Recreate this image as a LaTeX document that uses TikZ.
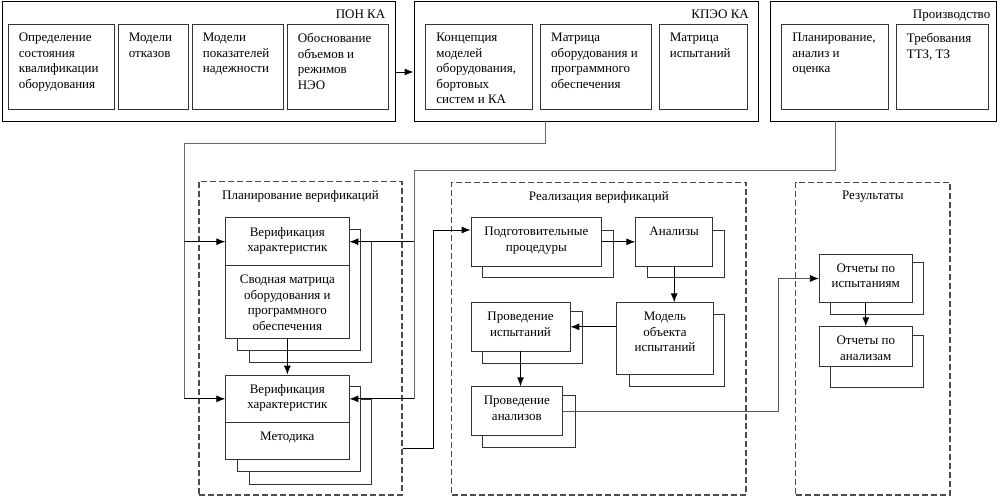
\documentclass[tikz,border=0pt]{standalone}
\usepackage{fontspec}
\setmainfont{Liberation Serif}
\newfontfamily\tnr{Liberation Serif}
\usetikzlibrary{arrows.meta,fit,calc}
\tikzset{
 fbox/.style={draw=black!80, line width=0.8pt, fill=white, inner sep=0pt},
 obox/.style={draw=black, line width=0.9pt, inner sep=0pt},
 grp/.style={draw=black!70, line width=1.3pt, dash pattern=on 6pt off 3pt, inner sep=0pt},
 txt/.style={inner sep=0pt, font=\tnr\fontsize{13pt}{15.5pt}\selectfont},
 arr/.style={draw=black, line width=0.9pt, -{Latex[length=9pt,width=7pt]}},
 conn/.style={draw=black!60, line width=0.8pt},
 thinarr/.style={draw=black!65, line width=0.8pt, -{Latex[length=9pt,width=7pt,color=black]}},
}
\newcommand\cbox[4]{\node[fbox, fit={(#2) (#3)}] (#1) {};
  \node[txt, align=center, anchor=north] (#1t) at ([yshift=-9.5pt]#1.north) {#4};}
\newcommand\lbox[4]{\node[fbox, fit={(#2) (#3)}] (#1) {};
  \node[txt, align=left, anchor=north west] (#1t) at ([xshift=11pt,yshift=-9.5pt]#1.north west) {#4};}
\newcommand\bbox[3]{\node[fbox, fit={(#2) (#3)}] (#1) {};}
\begin{document}
\begin{tikzpicture}[x=1pt,y=-1pt]
\useasboundingbox (0,0) rectangle (1000,497);
% top outer boxes
\node[obox, fit={(2,1) (395,121)}] (pon) {};
\node[obox, fit={(414,1) (758.6,121)}] (kpeo) {};
\node[obox, fit={(770,1) (996,121)}] (prod) {};
\node[txt, anchor=north east] (pont) at ([xshift=-10pt,yshift=-9.5pt]pon.north east) {ПОН КА};
\node[txt, anchor=north east] (kpeot) at ([xshift=-10pt,yshift=-9.5pt]kpeo.north east) {КПЭО КА};
\node[txt, anchor=north east] (prodt) at ([xshift=-6pt,yshift=-9.5pt]prod.north east) {Производство};
% top inner boxes
\lbox{pa1}{8,24}{114,109}{Определение\\состояния\\квалификации\\оборудования}
\lbox{pa2}{118,24}{188,109}{Модели\\отказов}
\lbox{pa3}{192,24}{283,109}{Модели\\показателей\\надежности}
\lbox{pa4}{287,24}{388,109}{Обоснование\\объемов и\\режимов\\НЭО}
\lbox{kp1}{425.6,24}{532.8,109}{Концепция\\моделей\\оборудования,\\бортовых\\систем и КА}
\lbox{kp2}{540.4,24}{651.4,109}{Матрица\\оборудования и\\программного\\обеспечения}
\lbox{kp3}{659,24}{747,109}{Матрица\\испытаний}
\lbox{pr1}{781.5,24}{888.7,109}{Планирование,\\анализ и\\оценка}
\lbox{pr2}{896,24}{988,109}{Требования\\ТТЗ, ТЗ}
% groups
\node[grp, fit={(199,181.7) (402,495)}] (plan) {};
\node[grp, fit={(451.7,182.3) (746,495)}] (real) {};
\node[grp, fit={(795.7,182.3) (950,495)}] (res) {};
\node[txt, anchor=north] (plant) at ([yshift=-9.5pt]plan.north) {Планирование верификаций};
\node[txt, anchor=north] (realt) at ([yshift=-9.5pt]real.north) {Реализация верификаций};
\node[txt, anchor=north] (rest) at ([yshift=-9.5pt]res.north) {Результаты};
% planning stacks
\bbox{vb13}{249,241.7}{371,362.7}
\bbox{vb12}{237.7,229}{360,350}
\cbox{vch1}{225.7,217.7}{349,265.7}{Верификация\\характеристик}
\cbox{svm}{225.7,265.7}{349,338}{Сводная матрица\\оборудования и\\программного\\обеспечения}
\bbox{vb23}{249,399.3}{371,484}
\bbox{vb22}{237.7,386.7}{360,471}
\cbox{vch2}{225.7,375}{349,422.7}{Верификация\\характеристик}
\cbox{met}{225.7,422.7}{349,459}{Методика}
% realization
\bbox{prepb}{482.7,230}{613.3,277.7}
\cbox{prep}{471,217.7}{601.7,266}{Подготовительные\\процедуры}
\bbox{analb}{647.3,230}{724,277.7}
\cbox{anal}{635.7,217.7}{712.7,266}{Анализы}
\bbox{modelb}{629,314.3}{724.3,386.7}
\cbox{model}{616.7,302.7}{713.3,374.3}{Модель\\объекта\\испытаний}
\bbox{pib}{482.7,311.7}{582.3,363.3}
\cbox{pi}{471,302.7}{570,351}{Проведение\\испытаний}
\bbox{pab}{482.7,395}{575,447.3}
\cbox{pan}{471,386.7}{562.7,435.7}{Проведение\\анализов}
% results
\bbox{rib}{830.7,262.7}{923.3,314.3}
\cbox{ri}{819.3,254.3}{912.3,302.7}{Отчеты по\\испытаниям}
\bbox{rab}{830.7,335.7}{923.3,387.3}
\cbox{ra}{819.3,326.7}{912.3,366.7}{Отчеты по\\анализам}
% connectors
\coordinate (h72) at (0,72);
\draw[arr] (pon.east |- h72) -- (kpeo.west |- h72);
\coordinate (kout) at (545,121);
\coordinate (kl) at (184,143);
\draw[conn] (kout) |- (kl) -- (kl |- vch2.west);
\draw[arr] (kl |- vch1.west) -- (vch1.west);
\draw[arr] (kl |- vch2.west) -- (vch2.west);
\coordinate (pout) at (835,121);
\coordinate (pl) at (414,170);
\draw[conn] (pout) |- (pl) -- (pl |- vch2.east);
\draw[arr] (pl |- vch1.east) -- (vch1.east);
\draw[arr] (pl |- vch2.east) -- (vch2.east);
\draw[arr] (svm.south) -- (vch2.north);
\coordinate (y448) at (0,448);
\coordinate (pv) at (433,230);
\draw[arr] (plan.east |- y448) -| (pv) -- (prep.west |- pv);
\draw[arr] (prep.east) -- (anal.west);
\draw[arr] (anal.south) -- (anal.south |- model.north);
\draw[arr] (model.west |- pi.east) -- (pi.east);
\draw[arr] (pi.south) -- (pi.south |- pan.north);
\coordinate (rv) at (778,300);
\draw[thinarr] (pan.east) -| (rv |- ri.west) -- (ri.west);
\draw[arr] (ri.south) -- (ri.south |- ra.north);
\end{tikzpicture}
\end{document}
